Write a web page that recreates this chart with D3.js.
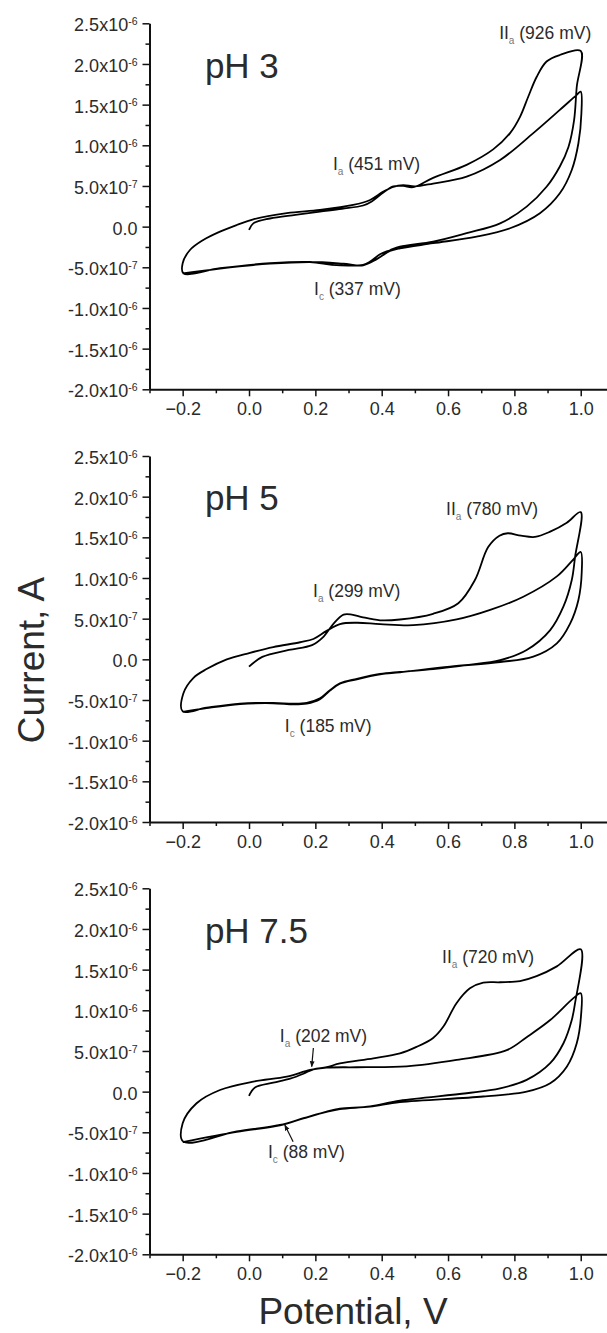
<!DOCTYPE html>
<html>
<head>
<meta charset="utf-8">
<script src="https://cdn.jsdelivr.net/npm/d3@7"></script>
<style>
  body { margin: 0; background: #fff; }
  svg { display: block; font-family: "Liberation Sans", Arial, Helvetica, sans-serif; }
</style>
</head>
<body>
<div id="chart"></div>
<script>
// currents are stored in units of 1e-7 A, potentials in V
const potentialTicks = [-0.2, 0.0, 0.2, 0.4, 0.6, 0.8, 1.0];
const currentTicks = [25, 20, 15, 10, 5, 0, -5, -10, -15, -20];
const currentTickMantissa = ['2.5x10', '2.0x10', '1.5x10', '1.0x10', '5.0x10', '0.0', '-5.0x10', '-1.0x10', '-1.5x10', '-2.0x10'];
const currentTickExponent = ['-6', '-6', '-6', '-6', '-7', '', '-7', '-6', '-6', '-6'];

const panelNames = ['pH 3', 'pH 5', 'pH 7.5'];

// pH 3 : two cycles starting at 0.0 V
const ph3Scan = [
    [0.000, -0.4], [0.013, 0.4], [0.063, 1.0], [0.14, 1.45], [0.214, 1.85], [0.28, 2.2], [0.344, 2.6],
    [0.37, 3.1], [0.405, 4.2], [0.435, 4.95], [0.465, 5.0], [0.495, 4.85], [0.555, 6.0], [0.656, 7.6],
    [0.736, 9.5], [0.787, 11.5], [0.817, 13.5], [0.842, 16.0], [0.867, 18.4], [0.897, 20.3], [0.937, 21.1],
    [1.0, 21.6],
    [0.988, 17.2], [0.98, 13.1], [0.963, 9.8], [0.937, 7.4], [0.897, 4.9], [0.837, 2.46], [0.757, 0.4],
    [0.656, -0.8], [0.555, -1.84], [0.455, -2.46], [0.425, -2.9], [0.395, -3.4], [0.365, -4.3], [0.344, -4.7],
    [0.30, -4.8], [0.25, -4.7], [0.184, -4.35], [0.063, -4.5], [-0.0875, -5.1], [-0.198, -5.73],
    [-0.2, -4.5], [-0.178, -2.87], [-0.138, -1.64], [-0.0875, -0.61], [-0.037, 0.2], [0.013, 0.9], [0.114, 1.65],
    [0.214, 2.05], [0.314, 2.67], [0.365, 3.28], [0.405, 4.3], [0.435, 4.9], [0.465, 5.1], [0.5, 4.95],
    [0.555, 5.3], [0.656, 6.15], [0.757, 8.2], [0.857, 11.5], [0.937, 14.35], [0.988, 16.2], [1.0, 16.6],
    [1.002, 13.9], [0.993, 10.25], [0.973, 6.97], [0.937, 4.1], [0.877, 1.65], [0.787, -0.2], [0.686, -1.23],
    [0.555, -2.04], [0.455, -2.66], [0.425, -3.0], [0.385, -4.0], [0.344, -4.75], [0.284, -4.55], [0.184, -4.35],
    [0.063, -4.55], [-0.0875, -5.15], [-0.2, -5.75]
];

// pH 5
const ph5Scan = [
    [0.0, -0.9], [0.04, 0.3], [0.12, 1.15], [0.19, 1.75], [0.225, 2.8], [0.255, 4.4], [0.285, 5.5],
    [0.31, 5.5], [0.34, 5.2], [0.395, 4.8], [0.455, 4.9], [0.555, 5.6], [0.631, 6.9], [0.681, 9.75],
    [0.721, 13.8], [0.755, 15.2], [0.78, 15.5], [0.82, 15.2], [0.862, 15.05], [0.908, 15.7], [0.958, 16.8],
    [1.0, 18.1],
    [0.983, 12.6], [0.973, 9.75], [0.948, 6.5], [0.908, 3.6], [0.837, 1.15], [0.757, -0.1], [0.656, -0.7],
    [0.555, -1.2], [0.455, -1.55], [0.395, -1.8], [0.325, -2.4], [0.274, -2.95], [0.244, -3.8], [0.214, -4.8],
    [0.174, -5.35], [0.134, -5.45], [0.073, -5.35], [-0.027, -5.45], [-0.128, -5.95], [-0.2, -6.4],
    [-0.198, -4.2], [-0.168, -2.3], [-0.128, -1.2], [-0.067, 0.0], [0.003, 0.8], [0.073, 1.5], [0.154, 2.1],
    [0.194, 2.5], [0.234, 3.5], [0.274, 4.34], [0.325, 4.5], [0.395, 4.34], [0.495, 4.2], [0.626, 4.9],
    [0.727, 6.07], [0.827, 7.7], [0.928, 10.2], [0.978, 12.3], [1.0, 13.2],
    [1.003, 10.7], [0.993, 7.3], [0.968, 4.4], [0.928, 1.97], [0.857, 0.33], [0.757, -0.33], [0.606, -0.9],
    [0.455, -1.6], [0.395, -1.85], [0.325, -2.45], [0.274, -3.0], [0.244, -3.85], [0.214, -4.9], [0.174, -5.45],
    [0.134, -5.55], [0.073, -5.4], [-0.027, -5.5], [-0.128, -6.0], [-0.2, -6.45]
];

// pH 7.5
const ph75Scan = [
    [0.0, -0.53], [0.018, 0.5], [0.073, 1.1], [0.124, 1.6], [0.164, 2.2], [0.194, 2.75], [0.234, 3.0],
    [0.274, 3.48], [0.375, 4.1], [0.455, 4.7], [0.505, 5.5], [0.555, 6.6], [0.586, 8.0], [0.626, 10.9],
    [0.666, 12.7], [0.706, 13.4], [0.757, 13.45], [0.817, 13.6], [0.867, 14.2], [0.928, 15.4], [1.0, 17.5],
    [0.983, 10.9], [0.973, 8.8], [0.948, 5.95], [0.908, 3.5], [0.837, 1.44], [0.757, 0.4], [0.656, -0.2],
    [0.455, -1.1], [0.365, -1.8], [0.274, -2.1], [0.234, -2.45], [0.164, -3.27], [0.093, -4.1], [-0.037, -4.9],
    [-0.198, -6.15],
    [-0.2, -3.9], [-0.158, -1.43], [-0.0875, 0.2], [0.013, 1.23], [0.114, 1.84], [0.184, 2.67], [0.234, 2.95],
    [0.325, 3.0], [0.475, 3.1], [0.626, 3.9], [0.777, 5.1], [0.837, 6.7], [0.908, 8.8], [0.978, 11.5],
    [1.0, 12.1],
    [1.001, 9.4], [0.988, 5.95], [0.958, 3.07], [0.908, 1.03], [0.837, 0.0], [0.706, -0.6], [0.455, -1.3],
    [0.365, -1.85], [0.274, -2.15], [0.234, -2.5], [0.164, -3.3], [0.093, -4.15], [-0.037, -4.95], [-0.2, -6.2]
];

const panelScans = [ph3Scan, ph5Scan, ph75Scan];

// peak labels: [main, subscript, rest, potential, current] (label anchor)
const ph3Labels = [['II', 'a', ' (926 mV)', 0.754, 23.1], ['I', 'a', ' (451 mV)', 0.253, 6.97], ['I', 'c', ' (337 mV)', 0.196, -8.4]];
const ph5Labels = [['II', 'a', ' (780 mV)', 0.594, 17.7], ['I', 'a', ' (299 mV)', 0.193, 7.66], ['I', 'c', ' (185 mV)', 0.108, -8.9]];
const ph75Labels = [['II', 'a', ' (720 mV)', 0.582, 15.8], ['I', 'a', ' (202 mV)', 0.093, 6.1], ['I', 'c', ' (88 mV)', 0.057, -8.2]];
const panelLabels = [ph3Labels, ph5Labels, ph75Labels];

// arrows in the pH 7.5 panel: [fromV, fromI, toV, toI]
const ph75Arrows = [[0.194, 5.37, 0.189, 3.07], [0.133, -6.15, 0.108, -4.1]];

const width = 607;
const height = 1333;
const panelTop = [23.3, 456, 888.3];
const panelHeight = 366;
const textColor = '#2b2b2b';

const svg = d3.select('#chart')
    .append('svg')
    .attr('width', width)
    .attr('height', height);

svg.append('defs').append('marker')
    .attr('id', 'arrowhead')
    .attr('viewBox', '0 0 10 10')
    .attr('refX', 9).attr('refY', 5)
    .attr('markerWidth', 5).attr('markerHeight', 5)
    .attr('orient', 'auto')
    .append('path')
    .attr('d', 'M0,1 L10,5 L0,9 Z')
    .attr('fill', '#111');

const x = d3.scaleLinear().domain([-0.3, 1.1]).range([149.5, 613.9]);

const minorX = d3.range(-0.3, 1.11, 0.1).map(v => +v.toFixed(1)).filter(v => !potentialTicks.includes(v));
const minorY = currentTicks.slice(1).map((v, i) => v + 2.5);

panelScans.forEach((scan, p) => {
    const top = panelTop[p];
    const y = d3.scaleLinear().domain([-20, 25]).range([top + panelHeight, top]);
    const g = svg.append('g');

    // minor ticks
    g.append('g')
        .attr('transform', `translate(0,${top + panelHeight})`)
        .call(d3.axisBottom(x).tickValues(minorX).tickSize(4).tickSizeOuter(0).tickFormat(''))
        .call(a => a.select('.domain').remove())
        .selectAll('line').attr('stroke-width', 1.5).attr('stroke', '#111');
    g.append('g')
        .attr('transform', `translate(${x(-0.3)},0)`)
        .call(d3.axisLeft(y).tickValues(minorY).tickSize(4).tickSizeOuter(0).tickFormat(''))
        .call(a => a.select('.domain').remove())
        .selectAll('line').attr('stroke-width', 1.5).attr('stroke', '#111');

    // x axis
    const xAxis = g.append('g')
        .attr('transform', `translate(0,${top + panelHeight})`)
        .call(d3.axisBottom(x).tickValues(potentialTicks).tickSize(7).tickSizeOuter(0).tickPadding(6)
            .tickFormat(d3.format('.1f')));
    xAxis.select('.domain').attr('stroke-width', 2).attr('stroke', '#111');
    xAxis.selectAll('line').attr('stroke-width', 1.5).attr('stroke', '#111');
    xAxis.selectAll('text')
        .attr('font-size', 18)
        .attr('font-family', '"Liberation Sans", Arial, sans-serif')
        .attr('fill', textColor);

    // y axis
    const yAxis = g.append('g')
        .attr('transform', `translate(${x(-0.3)},0)`)
        .call(d3.axisLeft(y).tickValues(currentTicks).tickSize(7).tickSizeOuter(0).tickPadding(5));
    yAxis.select('.domain').attr('stroke-width', 2).attr('stroke', '#111');
    yAxis.selectAll('line').attr('stroke-width', 1.5).attr('stroke', '#111');
    yAxis.selectAll('text')
        .attr('font-size', 18)
        .attr('dy', '0.42em')
        .attr('font-family', '"Liberation Sans", Arial, sans-serif')
        .attr('fill', textColor)
        .text(null)
        .each(function (d, i) {
            const t = d3.select(this);
            t.append('tspan').text(currentTickMantissa[i]);
            if (currentTickExponent[i]) {
                t.append('tspan')
                    .attr('font-size', 10.5)
                    .attr('dy', '-0.6em')
                    .text(currentTickExponent[i]);
            }
        });

    // the voltammogram
    const line = d3.line()
        .x(d => x(d[0]))
        .y(d => y(d[1]))
        .curve(d3.curveCatmullRom.alpha(0.5));

    g.append('path')
        .datum(scan)
        .attr('d', line)
        .attr('fill', 'none')
        .attr('stroke', '#000')
        .attr('stroke-width', 1.8)
        .attr('stroke-linejoin', 'round');

    // pH label
    g.append('text')
        .attr('x', x(-0.133))
        .attr('y', y(18.3))
        .attr('font-size', 35)
        .attr('fill', textColor)
        .text(panelNames[p]);

    // peak labels
    panelLabels[p].forEach(l => {
        const t = g.append('text')
            .attr('x', x(l[3]))
            .attr('y', y(l[4]))
            .attr('font-size', 17.5)
            .attr('fill', textColor);
        t.append('tspan').text(l[0]);
        t.append('tspan').attr('font-size', 10).attr('fill', '#777').attr('dy', 5).text(l[1]);
        t.append('tspan').attr('dy', -5).text(l[2]);
    });

    if (p === 2) {
        ph75Arrows.forEach(a => {
            g.append('line')
                .attr('x1', x(a[0])).attr('y1', y(a[1]))
                .attr('x2', x(a[2])).attr('y2', y(a[3]))
                .attr('stroke', '#111')
                .attr('stroke-width', 1.2)
                .attr('marker-end', 'url(#arrowhead)');
        });
    }
});

// axis titles
svg.append('text')
    .attr('transform', `translate(44,${660}) rotate(-90)`)
    .attr('text-anchor', 'middle')
    .attr('font-size', 37)
    .attr('fill', textColor)
    .text('Current, A');

svg.append('text')
    .attr('x', 353)
    .attr('y', 1324)
    .attr('text-anchor', 'middle')
    .attr('font-size', 37)
    .attr('fill', textColor)
    .text('Potential, V');
</script>
</body>
</html>
